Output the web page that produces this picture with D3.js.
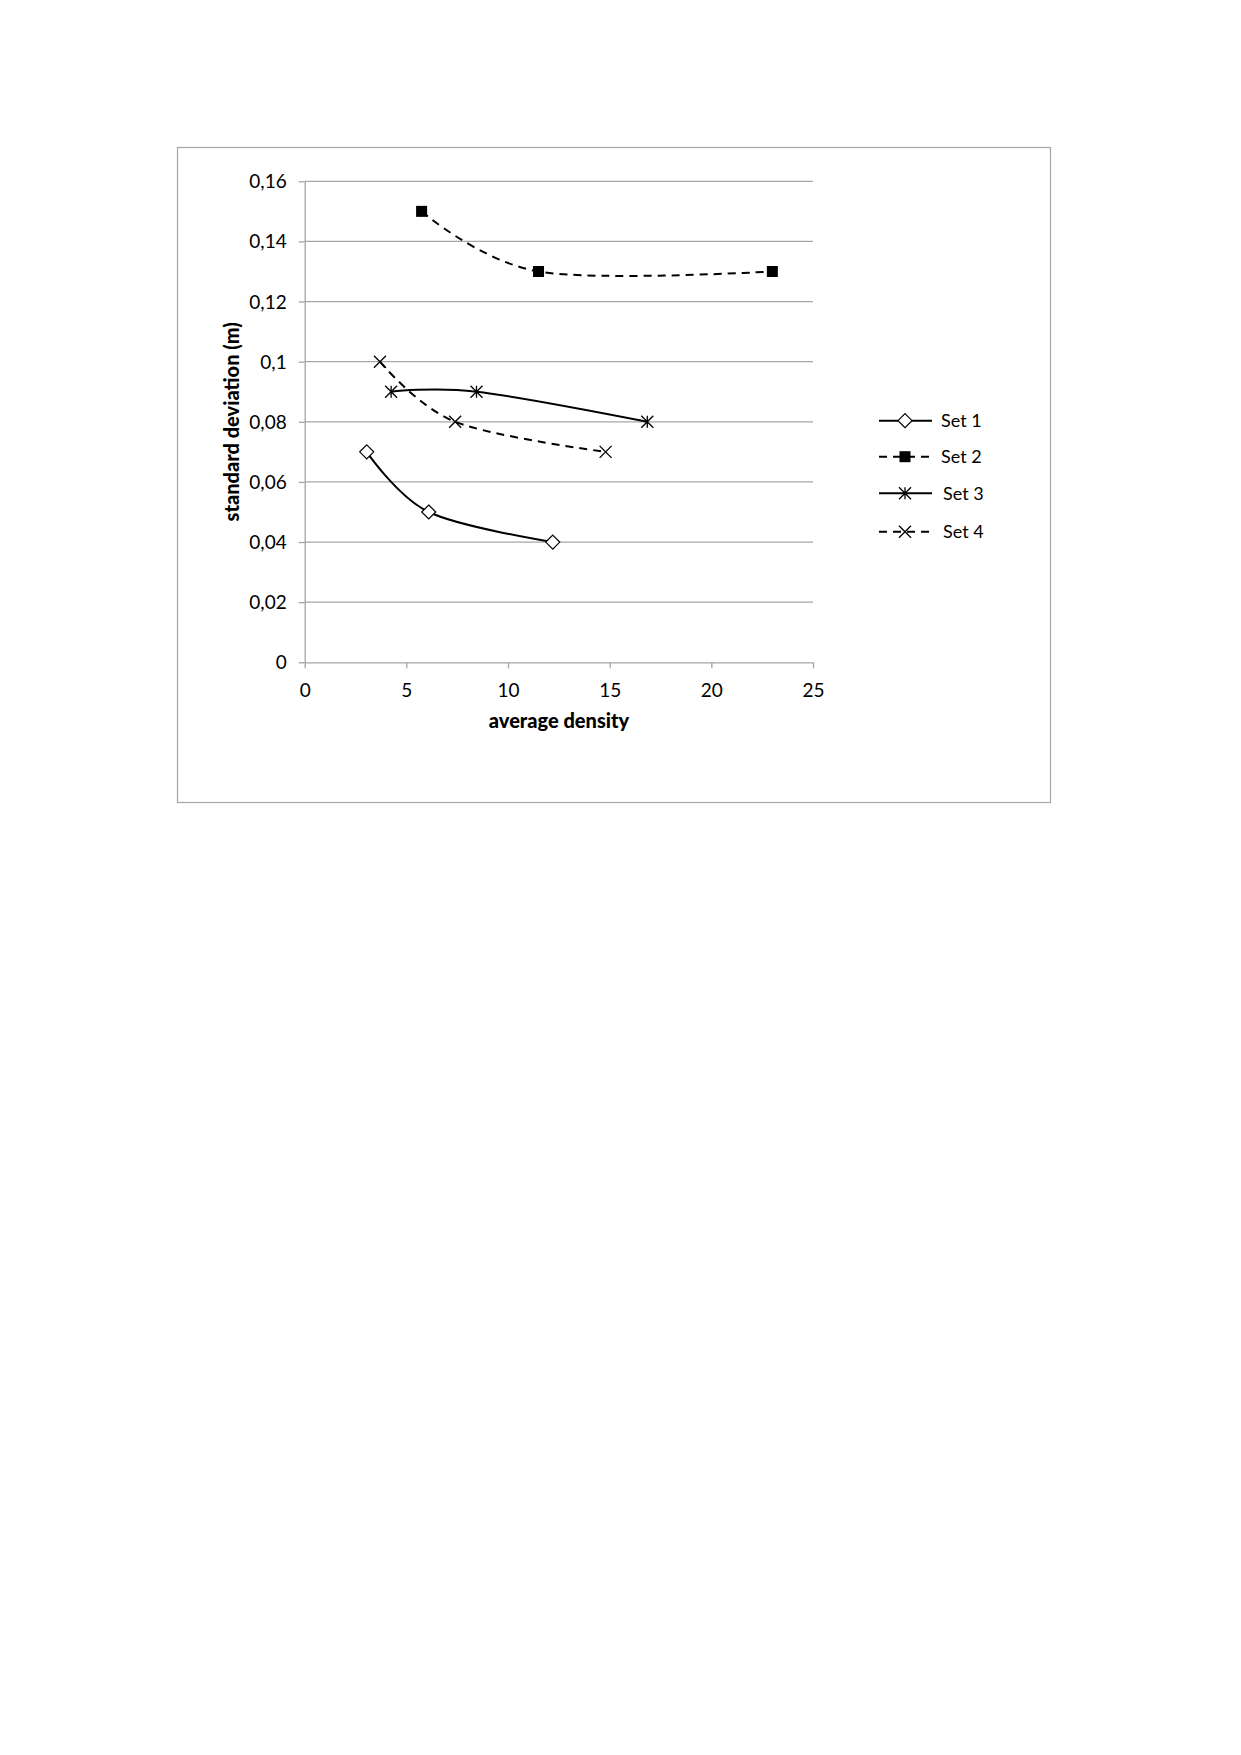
<!DOCTYPE html>
<html><head><meta charset="utf-8">
<script src="https://cdn.jsdelivr.net/npm/d3@7"></script>
<style>body{margin:0;background:#fff}svg{display:block}</style>
</head><body>
<script>
const seriesNames = ["Set 1","Set 2","Set 3","Set 4"];
const set1X = [3.05, 6.1, 12.2];
const set1Y = [0.07, 0.05, 0.04];
const set2X = [5.75, 11.5, 23];
const set2Y = [0.15, 0.13, 0.13];
const set3X = [4.25, 8.45, 16.85];
const set3Y = [0.09, 0.09, 0.08];
const set4X = [3.7, 7.4, 14.8];
const set4Y = [0.10, 0.08, 0.07];
const xTicks = [0,5,10,15,20,25];
const yTicks = [0,0.02,0.04,0.06,0.08,0.10,0.12,0.14,0.16];
const yTickLabels = ["0","0,02","0,04","0,06","0,08","0,1","0,12","0,14","0,16"];

const W=1241,H=1755;
const svg=d3.select("body").append("svg").attr("width",W).attr("height",H);
const font="Lato, 'Open Sans', sans-serif";
const grid="#a6a6a6";

svg.append("rect").attr("x",177.5).attr("y",147.5).attr("width",873).attr("height",655)
  .attr("fill","#fff").attr("stroke",grid).attr("stroke-width",1.2);

const x=d3.scaleLinear().domain([0,25]).range([304.7,813]);
const y=d3.scaleLinear().domain([0,0.16]).range([662.3,181.3]);

// gridlines
svg.append("g").selectAll("line").data(yTicks.slice(1)).join("line")
  .attr("x1",x(0)).attr("x2",x(25)).attr("y1",d=>y(d)).attr("y2",d=>y(d))
  .attr("stroke",grid).attr("stroke-width",1.3);

const ax=svg.append("g").attr("transform",`translate(0,${y(0)})`)
  .call(d3.axisBottom(x).tickValues(xTicks).tickSize(6).tickSizeOuter(0).tickPadding(17));
const ay=svg.append("g").attr("transform",`translate(${x(0)},0)`)
  .call(d3.axisLeft(y).tickValues(yTicks).tickFormat((d,i)=>yTickLabels[i]).tickSize(6).tickSizeOuter(0).tickPadding(12));
[ax,ay].forEach(a=>{
  a.selectAll("path,line").attr("stroke",grid).attr("stroke-width",1.3);
  a.selectAll("text").attr("font-family",font).attr("font-size",19).attr("fill","#000");
});
ay.selectAll("text").attr("dy","0.34em");
ax.selectAll("text").attr("dy","0.6em");

svg.append("text").attr("x",559).attr("y",728).attr("text-anchor","middle")
  .attr("font-family",font).attr("font-weight","900").attr("font-size",20).text("average density");
svg.append("text").attr("transform",`translate(239,${(y(0)+y(0.16))/2}) rotate(-90)`).attr("text-anchor","middle")
  .attr("font-family",font).attr("font-weight","900").attr("font-size",20).text("standard deviation (m)");

const series=[
  {name:seriesNames[0],xs:set1X,ys:set1Y,dash:null,marker:"diamond"},
  {name:seriesNames[1],xs:set2X,ys:set2Y,dash:"8,6",marker:"square"},
  {name:seriesNames[2],xs:set3X,ys:set3Y,dash:null,marker:"star"},
  {name:seriesNames[3],xs:set4X,ys:set4Y,dash:"8,6",marker:"x"}
];
const line=d3.line().curve(d3.curveCardinal.tension(0)).x(d=>x(d[0])).y(d=>y(d[1]));

function drawMarker(g,type,cx,cy){
  if(type==="diamond"){
    g.append("path").attr("d",`M${cx},${cy-7}L${cx+7},${cy}L${cx},${cy+7}L${cx-7},${cy}Z`)
      .attr("fill","#fff").attr("stroke","#000").attr("stroke-width",1.2);
  } else if(type==="square"){
    g.append("rect").attr("x",cx-5.5).attr("y",cy-5.5).attr("width",11).attr("height",11).attr("fill","#000");
  } else if(type==="star"){
    const r=6;
    g.append("path").attr("d",`M${cx-r},${cy-r}L${cx+r},${cy+r}M${cx-r},${cy+r}L${cx+r},${cy-r}M${cx},${cy-r}L${cx},${cy+r}`)
      .attr("stroke","#000").attr("stroke-width",1.3).attr("fill","none");
  } else {
    const r=6;
    g.append("path").attr("d",`M${cx-r},${cy-r}L${cx+r},${cy+r}M${cx-r},${cy+r}L${cx+r},${cy-r}`)
      .attr("stroke","#000").attr("stroke-width",1.3).attr("fill","none");
  }
}

series.forEach(s=>{
  const pts=s.xs.map((v,i)=>[v,s.ys[i]]);
  svg.append("path").attr("d",line(pts)).attr("fill","none").attr("stroke","#000")
    .attr("stroke-width",2).attr("stroke-dasharray",s.dash);
  const g=svg.append("g");
  pts.forEach(p=>drawMarker(g,s.marker,x(p[0]),y(p[1])));
});

// legend
const legY=[420.7,456.7,493.3,531.7];
series.forEach((s,i)=>{
  const g=svg.append("g");
  g.append("line").attr("x1",879).attr("x2",932).attr("y1",legY[i]).attr("y2",legY[i])
    .attr("stroke","#000").attr("stroke-width",2).attr("stroke-dasharray",s.dash?"8,6":null);
  drawMarker(g,s.marker,905,legY[i]);
  g.append("text").attr("x",941+(i>=2?2:0)).attr("y",legY[i]).attr("dy","0.36em")
    .attr("font-family",font).attr("font-size",18).text(s.name);
});
</script>
</body></html>
